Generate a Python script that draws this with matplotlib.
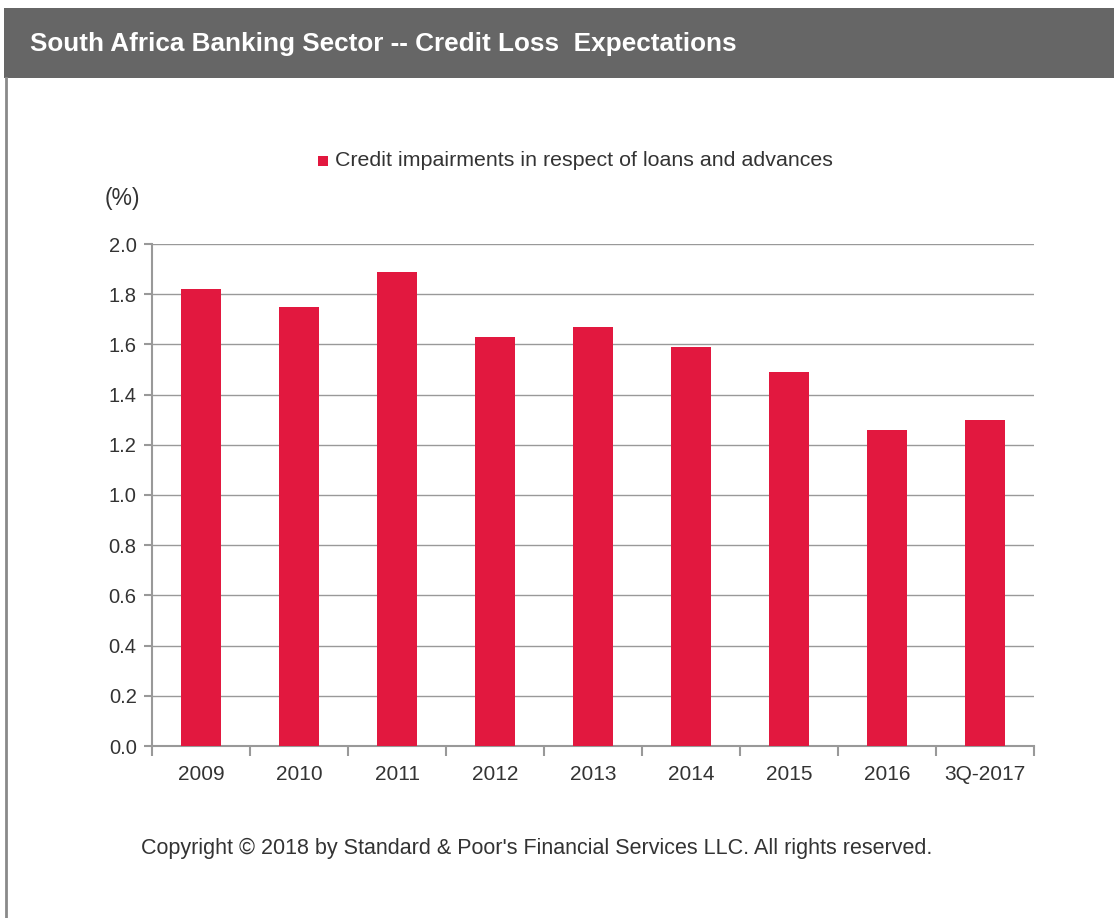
import matplotlib
matplotlib.use("Agg")
import matplotlib.pyplot as plt
from matplotlib.patches import Rectangle
from matplotlib.lines import Line2D

categories = ["2009", "2010", "2011", "2012", "2013", "2014", "2015", "2016", "3Q-2017"]
values = [1.82, 1.75, 1.89, 1.63, 1.67, 1.59, 1.49, 1.26, 1.30]
yticks = [0.0, 0.2, 0.4, 0.6, 0.8, 1.0, 1.2, 1.4, 1.6, 1.8, 2.0]
series_name = "Credit impairments in respect of loans and advances"
title = "South Africa Banking Sector -- Credit Loss  Expectations"
copyright_text = "Copyright \u00a9 2018 by Standard & Poor's Financial Services LLC. All rights reserved."

plt.rcParams['font.family'] = ['Liberation Sans', 'DejaVu Sans']

W, H = 1114, 918
fig = plt.figure(figsize=(W / 100, H / 100), dpi=100)
fig.patch.set_facecolor("white")

# header band
fig.patches.append(Rectangle((4 / W, 1 - 78 / H), 1 - 4 / W, 70 / H, transform=fig.transFigure,
                             facecolor="#666666", edgecolor="none", zorder=0))
# left frame line
fig.lines.append(Line2D([6 / W, 6 / W], [0, 1 - 78 / H], transform=fig.transFigure,
                        color="#8a8a8a", lw=2))
fig.text(30 / W, 1 - 44 / H, title, color="white", fontsize=18.8, fontweight="bold",
         va="center", ha="left")

ax = fig.add_axes([152 / W, 1 - 746 / H, 882 / W, 502 / H])
x = list(range(len(categories)))
ax.bar(x, values, width=0.41, color="#E2183F", zorder=3)
ax.set_xlim(-0.5, len(categories) - 0.5)
ax.set_ylim(0, 2.0)
ax.set_yticks(yticks)
ax.set_yticklabels([f"{v:.1f}" for v in yticks])
ax.yaxis.grid(True, color="#999999", lw=1, zorder=0)
ax.set_axisbelow(True)
for s in ["top", "right"]:
    ax.spines[s].set_visible(False)
for s in ["left", "bottom"]:
    ax.spines[s].set_color("#999999")
    ax.spines[s].set_linewidth(1.5)
ax.set_xticks([i - 0.5 for i in range(len(categories) + 1)])
ax.set_xticklabels([])
ax.set_xticks(x, minor=True)
ax.set_xticklabels(categories, minor=True)
ax.tick_params(axis="x", which="major", length=7, color="#999999", width=1.5, direction="out")
ax.tick_params(axis="x", which="minor", length=0, pad=14, labelsize=15, labelcolor="#333333")
ax.tick_params(axis="y", length=6, color="#999999", width=1.5, direction="out",
               labelsize=14.5, labelcolor="#333333", pad=5)

# legend
fig.patches.append(Rectangle((318 / W, 1 - 166 / H), 10 / W, 10 / H, transform=fig.transFigure,
                             facecolor="#E2183F", edgecolor="none"))
fig.text(335 / W, 1 - 161 / H, series_name, fontsize=15.4, color="#333333", va="center", ha="left")
fig.text(105 / W, 1 - 198 / H, "(%)", fontsize=16.5, color="#333333", va="center", ha="left")
fig.text(537 / W, 1 - 848 / H, copyright_text, fontsize=15.5, color="#333333", va="center", ha="center")

fig.savefig("out.png", dpi=100, facecolor="white")
